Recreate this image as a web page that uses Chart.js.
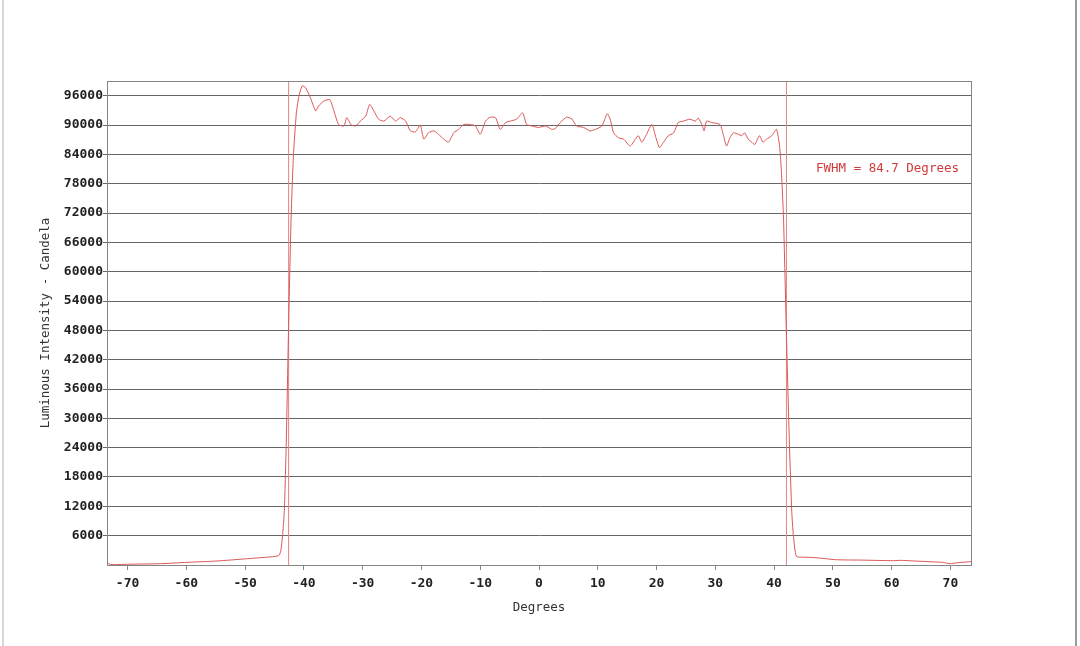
<!DOCTYPE html>
<html>
<head>
<meta charset="utf-8">
<script src="https://cdn.jsdelivr.net/npm/chart.js@4.4.1/dist/chart.umd.min.js"></script>
<style>
  html, body { margin: 0; padding: 0; background: #fff; }
  #wrap { width: 1080px; height: 646px; position: relative; }
</style>
</head>
<body>
<div id="wrap"><canvas id="chart" width="1080" height="646"></canvas></div>
<script>
// angle (degrees) and luminous intensity (cd)
const degrees = [
  -73.5, -72.9, -70.0, -64.4, -59.9, -54.8, -50.2, -47.4, -44.3, -43.9,
  -43.5, -43.3, -43.0, -42.6, -42.2, -41.8, -41.3, -40.9, -40.3, -39.7,
  -38.9, -38.0, -37.5, -36.6, -35.6, -34.9, -34.1, -33.2, -32.7, -32.0,
  -31.2, -30.4, -29.5, -28.8, -28.1, -27.3, -26.4, -25.3, -24.4, -23.6,
  -22.7, -21.9, -21.0, -20.2, -19.6, -18.8, -17.9, -17.1, -16.2, -15.4,
  -14.5, -13.7, -12.8, -11.7, -10.8, -10.0, -9.1, -8.3, -7.4, -6.6,
  -5.7, -4.9, -3.8, -2.8, -2.1, -1.2, -0.1, 1.1, 2.2, 2.8,
  3.6, 4.7, 5.6, 6.4, 7.6, 8.7, 9.6, 10.7, 11.6, 12.1,
  12.7, 13.5, 14.4, 15.5, 16.4, 16.9, 17.5, 18.3, 19.2, 19.9,
  20.5, 21.2, 22.0, 22.9, 23.7, 24.6, 25.7, 26.6, 27.1, 27.7,
  28.1, 28.5, 29.4, 30.8, 31.4, 31.9, 32.5, 33.1, 33.9, 34.5,
  35.0, 35.6, 36.2, 36.7, 37.5, 38.1, 38.7, 39.6, 40.4, 40.9,
  41.1, 41.3, 41.6, 42.1, 42.6, 43.0, 43.3, 43.8, 45.0, 47.0,
  50.6, 55.0, 60.3, 61.5, 65.0, 68.8, 69.8, 71.5, 73.5
];
const intensity = [
  540, 100, 150, 270, 540, 820, 1230, 1500, 1900, 3100,
  7900, 12000, 25000, 49000, 70000, 83300, 92200, 95600, 98000, 97600,
  95600, 92900, 93900, 94900, 95200, 92900, 90100, 89800, 91500, 90100,
  89800, 90800, 91800, 94200, 92900, 91200, 90800, 91800, 90800, 91500,
  90800, 88800, 88600, 90000, 87100, 88400, 88800, 88100, 87100, 86500,
  88400, 89100, 90100, 90100, 89800, 88100, 90800, 91600, 91500, 89100,
  90500, 90800, 91200, 92500, 90100, 89800, 89500, 89800, 89100, 89300,
  90500, 91600, 91200, 89800, 89500, 88800, 89100, 89800, 92300, 91200,
  88400, 87400, 87100, 85700, 87100, 87800, 86500, 88100, 90100, 87400,
  85400, 86500, 87800, 88400, 90500, 90800, 91200, 90800, 91400, 90100,
  88800, 90800, 90500, 90100, 87800, 85700, 87400, 88400, 88100, 87800,
  88400, 87100, 86500, 86000, 87800, 86500, 87100, 87800, 89100, 86000,
  83300, 79200, 71000, 47000, 25000, 11000, 5800, 1760, 1600, 1500,
  1080, 1000, 880, 950, 750, 530, 270, 500, 680
];

// half-maximum crossing angles
const fwhmEdges = [-42.6, 42.1];
const fwhmLabel = "FWHM = 84.7 Degrees";

const xTicks = [-70, -60, -50, -40, -30, -20, -10, 0, 10, 20, 30, 40, 50, 60, 70];
const yTicks = [6000, 12000, 18000, 24000, 30000, 36000, 42000, 48000,
                54000, 60000, 66000, 72000, 78000, 84000, 90000, 96000];
const xRange = [-73.5, 73.5];
const yRange = [0, 99000];

const monoFont = "'DejaVu Sans Mono', 'Liberation Mono', monospace";

const curve = degrees.map((d, i) => ({ x: d, y: intensity[i] }));
const edgeSets = fwhmEdges.map(d => ({
    data: [{ x: d, y: yRange[0] }, { x: d, y: yRange[1] }],
    borderColor: "#e58484",
    borderWidth: 1,
    pointRadius: 0,
    showLine: true
}));

// frame around the plot, outer image edges and the FWHM note
const decor = {
    id: "decor",
    beforeDraw(chart) {
        const ctx = chart.ctx;
        ctx.save();
        ctx.fillStyle = "#fff";
        ctx.fillRect(0, 0, chart.width, chart.height);
        ctx.fillStyle = "#d8d8d8";
        ctx.fillRect(2, 0, 2, chart.height);
        ctx.fillStyle = "#9a9a9a";
        ctx.fillRect(1075, 0, 2, chart.height);
        ctx.restore();
    },
    afterDraw(chart) {
        const { ctx, chartArea: a, scales } = chart;
        ctx.save();
        ctx.strokeStyle = "#858585";
        ctx.lineWidth = 1;
        ctx.strokeRect(Math.round(a.left) + 0.5, Math.round(a.top) + 0.5,
                       Math.round(a.right - a.left), Math.round(a.bottom - a.top));
        ctx.fillStyle = "#d23b3b";
        ctx.font = "12.5px " + monoFont;
        ctx.textAlign = "right";
        ctx.textBaseline = "middle";
        ctx.fillText(fwhmLabel, a.right - 12, scales.y.getPixelForValue(81000));
        ctx.restore();
    }
};

new Chart(document.getElementById("chart"), {
    type: "scatter",
    data: {
        datasets: [{
            data: curve,
            borderColor: "#dc5656",
            borderWidth: 1,
            pointRadius: 0,
            showLine: true,
            tension: 0.2
        }, ...edgeSets]
    },
    options: {
        responsive: false,
        animation: false,
        layout: { padding: { left: 34, right: 109, top: 81, bottom: 31 } },
        plugins: { legend: { display: false }, tooltip: { enabled: false } },
        scales: {
            x: {
                type: "linear",
                min: xRange[0],
                max: xRange[1],
                afterBuildTicks: s => { s.ticks = xTicks.map(v => ({ value: v })); },
                afterFit: s => { s.height = 50; },
                border: { color: "#858585" },
                grid: { drawOnChartArea: false, tickLength: 5, color: "#858585" },
                ticks: {
                    padding: 6,
                    color: "#222",
                    font: { family: monoFont, size: 13, weight: "bold" }
                },
                title: {
                    display: true,
                    text: "Degrees",
                    color: "#333",
                    padding: { top: 0, bottom: 0 },
                    font: { family: monoFont, size: 12.5 }
                }
            },
            y: {
                min: yRange[0],
                max: yRange[1],
                afterBuildTicks: s => { s.ticks = yTicks.map(v => ({ value: v })); },
                afterFit: s => { s.width = 73; },
                border: { color: "#858585" },
                grid: { color: "#666", tickLength: 4 },
                ticks: {
                    padding: 0,
                    color: "#222",
                    callback: v => String(v),
                    font: { family: monoFont, size: 13, weight: "bold" }
                },
                title: {
                    display: true,
                    text: "Luminous Intensity - Candela",
                    color: "#333",
                    padding: { top: 4, bottom: 4 },
                    font: { family: monoFont, size: 12.5 }
                }
            }
        }
    },
    plugins: [decor]
});
</script>
</body>
</html>
